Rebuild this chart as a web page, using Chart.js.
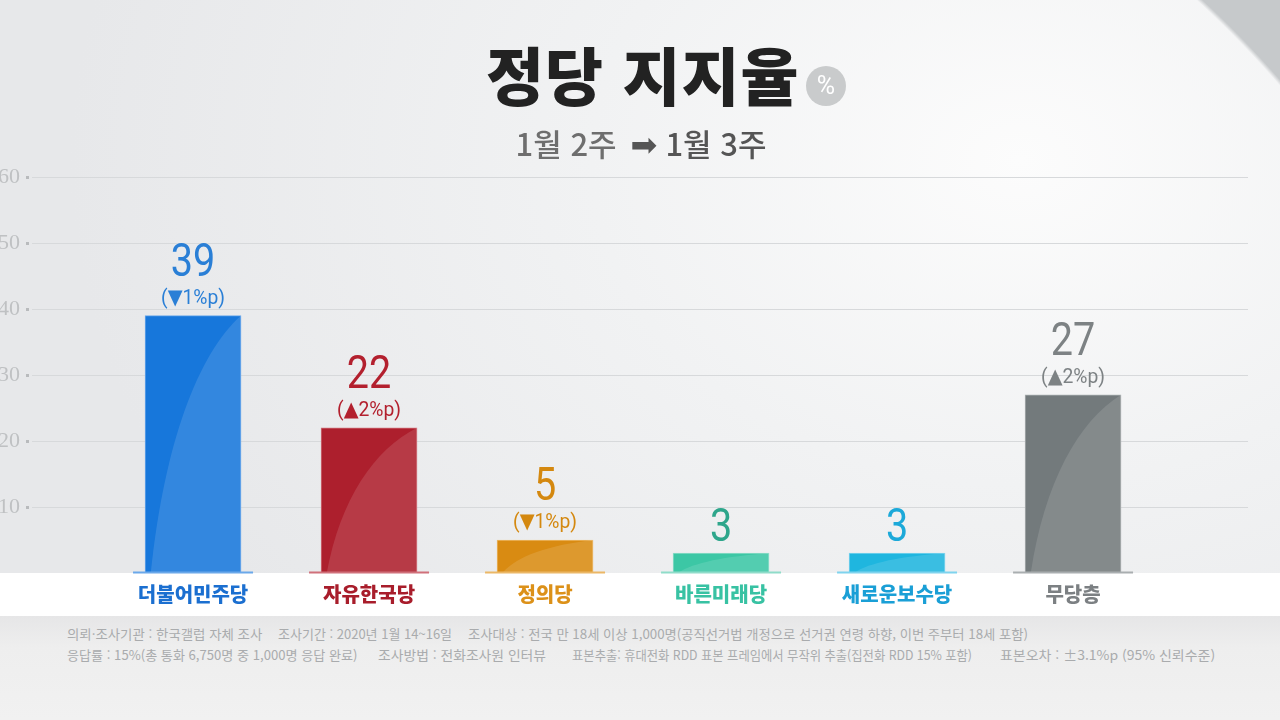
<!DOCTYPE html>
<html lang="ko">
<head>
<meta charset="utf-8">
<title>정당 지지율</title>
<script src="https://cdn.jsdelivr.net/npm/chart.js@4.4.1/dist/chart.umd.min.js"></script>
<style>
    html, body { margin: 0; padding: 0; }
    body {
        width: 1280px; height: 720px; overflow: hidden; position: relative;
        font-family: 'Noto Sans CJK KR', 'Noto Sans', sans-serif;
        background: radial-gradient(ellipse 950px 720px at 1020px 160px, #fcfcfc 0%, #f1f2f3 45%, #e7e8ea 100%);
    }
    #corner {
        position: absolute; left: 0; top: 0; width: 1280px; height: 720px;
        background: radial-gradient(circle 1035px at 500px 760px, rgba(0,0,0,0) 99.6%, #c6c9cb 100%);
    }
    #band { position: absolute; left: 0; top: 573px; width: 1280px; height: 43px; background: #fff; }
    #footer {
        position: absolute; left: 0; top: 616px; width: 1280px; height: 104px;
        background: linear-gradient(180deg, #e6e6e7 0%, #eeeeee 30%, #f1f1f1 100%);
    }
    #footer span {
        position: absolute; white-space: nowrap; font-size: 13px; color: #a9abad;
        transform-origin: left center;
    }
    canvas { position: absolute; left: 0; top: 0; }
    #title {
        position: absolute; left: 486px; top: 28px; font-size: 63px; font-weight: 900;
        color: #222; letter-spacing: 1px; line-height: 90px; white-space: nowrap;
    }
    #pct {
        position: absolute; left: 806px; top: 66px; width: 40px; height: 40px; border-radius: 50%;
        background: #c9cbcc; color: #fff; font-family: Roboto, sans-serif; font-size: 25px;
        line-height: 40px; text-align: center;
    }
    #subtitle {
        position: absolute; left: 0; width: 1282px; top: 121px; text-align: center;
        font-size: 31px; font-weight: 500; color: #6e6e6e; line-height: 44px; white-space: nowrap;
    }
    #subtitle .arrow { font-family: 'DejaVu Sans', sans-serif; color: #555; font-size: 32px; margin: 0 8px 0 14px; }
    #subtitle .now { color: #555; }
</style>
</head>
<body>
<div id="corner"></div>
<div id="band"></div>
<div id="footer">
    <span data-x="67" data-y="17" data-w="195">의뢰·조사기관 : 한국갤럽 자체 조사</span>
    <span data-x="278" data-y="17" data-w="174">조사기간 : 2020년 1월 14~16일</span>
    <span data-x="468" data-y="17" data-w="560">조사대상 : 전국 만 18세 이상 1,000명(공직선거법 개정으로 선거권 연령 하향, 이번 주부터 18세 포함)</span>
    <span data-x="67" data-y="38" data-w="290">응답률 : 15%(총 통화 6,750명 중 1,000명 응답 완료)</span>
    <span data-x="378" data-y="38" data-w="168">조사방법 : 전화조사원 인터뷰</span>
    <span data-x="572" data-y="38" data-w="400">표본추출: 휴대전화 RDD 표본 프레임에서 무작위 추출(집전화 RDD 15% 포함)</span>
    <span data-x="1000" data-y="38" data-w="215">표본오차 : ±3.1%p (95% 신뢰수준)</span>
</div>
<canvas id="supportChart" width="1280" height="720"></canvas>
<div id="title">정당 지지율</div>
<div id="pct">%</div>
<div id="subtitle">1월 2주<span class="arrow">➡</span><span class="now">1월 3주</span></div>

<script>
// === DATA ===
const PARTIES = ['더불어민주당', '자유한국당', '정의당', '바른미래당', '새로운보수당', '무당층'];
const SUPPORT = [39, 22, 5, 3, 3, 27];
const CHANGES = ['(▼1%p)', '(▲2%p)', '(▼1%p)', '', '', '(▲2%p)'];
const Y_TICKS = [10, 20, 30, 40, 50, 60];

// === STYLES ===
const BAR_COLORS = ['#1777db', '#ad1f2d', '#d98b12', '#3cc7a5', '#1fb6df', '#737a7c'];
const BASE_COLORS = ['#6aa8ea', '#d0707a', '#ebb766', '#8fdcc9', '#7fd3ee', '#a9aeb0'];
const VALUE_COLORS = ['#2a7fd6', '#b3202e', '#d4880f', '#2ea68b', '#1ca9d9', '#7d8284'];
const LABEL_COLORS = ['#1b6fd0', '#a81d2b', '#dc9119', '#38c2a3', '#1a9fd6', '#7c8083'];

const chartDefaults = {
    responsive: false,
    animation: false,
    plugins: {
        legend: { display: false },
        tooltip: { enabled: false }
    }
};

// lighter curved sheen + baseline under each bar
const barGloss = {
    id: 'barGloss',
    afterDatasetsDraw(chart) {
        const ctx = chart.ctx;
        const meta = chart.getDatasetMeta(0);
        meta.data.forEach((bar, i) => {
            const w = bar.width, left = bar.x - w / 2, right = bar.x + w / 2;
            const top = bar.y, bottom = bar.base, h = bottom - top;
            ctx.save();
            ctx.beginPath();
            ctx.rect(left, top, w, h);
            ctx.clip();
            ctx.beginPath();
            ctx.moveTo(right, top);
            ctx.bezierCurveTo(right - w * 0.45, top + Math.min(h * 0.15, 40),
                left + w * 0.2, top + h * 0.5, left + w * 0.06, bottom);
            ctx.lineTo(right, bottom);
            ctx.closePath();
            ctx.fillStyle = 'rgba(255,255,255,0.12)';
            ctx.fill();
            ctx.restore();

            ctx.save();
            ctx.strokeStyle = BASE_COLORS[i];
            ctx.lineWidth = 2;
            ctx.beginPath();
            ctx.moveTo(left - 12, bottom);
            ctx.lineTo(right + 12, bottom);
            ctx.stroke();
            ctx.restore();
        });
    }
};

// value + change text above each bar
const valueLabels = {
    id: 'valueLabels',
    afterDatasetsDraw(chart) {
        const ctx = chart.ctx;
        const meta = chart.getDatasetMeta(0);
        meta.data.forEach((bar, i) => {
            ctx.save();
            ctx.fillStyle = VALUE_COLORS[i];
            ctx.textAlign = 'center';
            ctx.textBaseline = 'alphabetic';
            let numY = bar.y - 12;
            if (CHANGES[i]) {
                ctx.save();
                ctx.translate(bar.x, bar.y - 12);
                ctx.scale(0.92, 1);
                ctx.font = '400 21px Roboto, "DejaVu Sans", sans-serif';
                ctx.fillText(CHANGES[i], 0, 0);
                ctx.restore();
                numY = bar.y - 40;
            }
            ctx.translate(bar.x, numY);
            ctx.scale(0.86, 1);
            ctx.font = '400 46px Roboto, sans-serif';
            ctx.fillText(String(SUPPORT[i]), 0, 0);
            ctx.restore();
        });
    }
};

function initSupportChart() {
    const canvas = document.getElementById('supportChart');
    if (!canvas) return;

    new Chart(canvas, {
        type: 'bar',
        data: {
            datasets: [{
                label: '지지율',
                data: SUPPORT.map((v, i) => ({ x: i, y: v })),
                backgroundColor: BAR_COLORS,
                borderColor: BASE_COLORS,
                borderWidth: { top: 1, left: 1, right: 1, bottom: 0 },
                barThickness: 96
            }]
        },
        options: {
            ...chartDefaults,
            layout: { padding: { top: 177, right: 32, bottom: 100, left: 0 } },
            scales: {
                x: {
                    type: 'linear',
                    offset: false,
                    min: -0.915,
                    max: 5.994,
                    afterBuildTicks: scale => {
                        scale.ticks = PARTIES.map((_, i) => ({ value: i }));
                    },
                    afterFit: scale => {
                        scale.height = 47;
                        scale.paddingLeft = 0;
                        scale.paddingRight = 0;
                    },
                    grid: { display: false, drawTicks: false, offset: false },
                    border: { display: false },
                    ticks: {
                        autoSkip: false,
                        maxRotation: 0,
                        padding: 9,
                        color: ctx => LABEL_COLORS[ctx.index],
                        font: { family: "'Noto Sans CJK KR'", size: 20, weight: 900 },
                        callback: value => PARTIES[value]
                    }
                },
                y: {
                    min: 0,
                    max: 60,
                    afterBuildTicks: scale => {
                        scale.ticks = [0, ...Y_TICKS].map(v => ({ value: v }));
                    },
                    afterFit: scale => {
                        scale.width = 32;
                        scale.paddingTop = 0;
                        scale.paddingBottom = 0;
                    },
                    border: { display: false },
                    grid: {
                        color: ctx => ctx.tick && ctx.tick.value === 0 ? 'rgba(0,0,0,0)' : '#d7d9db',
                        lineWidth: 1,
                        tickLength: 6,
                        tickWidth: 3,
                        tickColor: ctx => ctx.tick && ctx.tick.value === 0 ? 'rgba(0,0,0,0)' : '#b9bbbd',
                        tickBorderDash: [3, 3]
                    },
                    ticks: {
                        padding: 6,
                        color: '#bfc1c3',
                        font: { family: "'Liberation Serif'", size: 22 },
                        callback: value => value === 0 ? '' : value
                    }
                }
            }
        },
        plugins: [barGloss, valueLabels]
    });
}

function fitFooter() {
    document.querySelectorAll('#footer span').forEach(span => {
        span.style.left = span.dataset.x + 'px';
        span.style.top = (span.dataset.y - 9) + 'px';
        const actual = span.offsetWidth;
        const target = Number(span.dataset.w);
        if (actual > 0) span.style.transform = 'scaleX(' + (target / actual).toFixed(3) + ')';
    });
}

document.addEventListener('DOMContentLoaded', function() {
    fitFooter();
    initSupportChart();
});
</script>
</body>
</html>
